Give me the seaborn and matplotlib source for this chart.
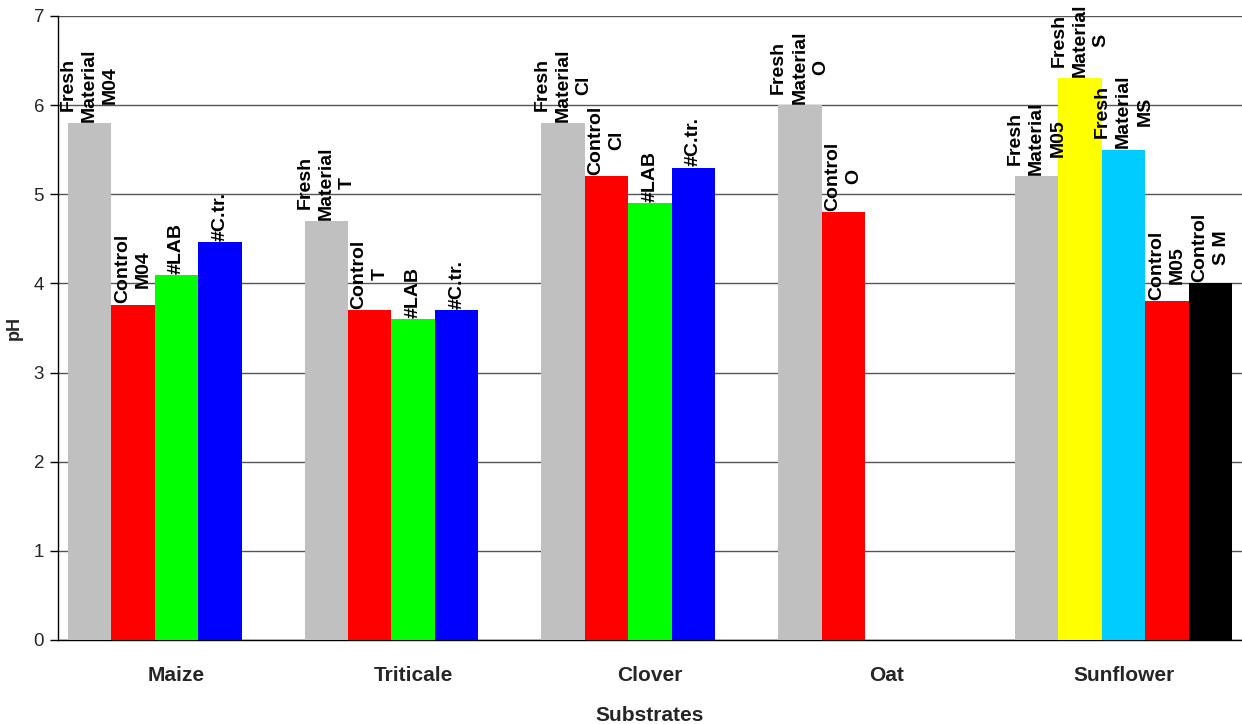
import matplotlib
matplotlib.use("Agg")
import matplotlib.pyplot as plt
import seaborn as sns
import pandas as pd
import numpy as np

# Substrates on the x axis
substrates = ["Maize", "Triticale", "Clover", "Oat", "Sunflower"]

# pH values per substrate, one entry per bar slot (None = no bar)
maize_ph = [5.8, 3.76, 4.09, 4.46, None]
triticale_ph = [4.7, 3.7, 3.6, 3.7, None]
clover_ph = [5.8, 5.2, 4.9, 5.3, None]
oat_ph = [6.0, 4.8, None, None, None]
sunflower_ph = [5.2, 6.3, 5.5, 3.8, 4.0]

# bar annotations
maize_labels = ["Fresh\nMaterial\nM04", "Control\nM04", "#LAB", "#C.tr.", None]
triticale_labels = ["Fresh\nMaterial\nT", "Control\nT", "#LAB", "#C.tr.", None]
clover_labels = ["Fresh\nMaterial\nCl", "Control\nCl", "#LAB", "#C.tr.", None]
oat_labels = ["Fresh\nMaterial\nO", "Control\nO", None, None, None]
sunflower_labels = ["Fresh\nMaterial\nM05", "Fresh\nMaterial\nS", "Fresh\nMaterial\nMS",
                    "Control\nM05", "Control\nS M"]

# bar colours
std_colors = ["#C0C0C0", "#FF0000", "#00FF00", "#0000FF", "#000000"]
sunflower_colors = ["#C0C0C0", "#FFFF00", "#00CCFF", "#FF0000", "#000000"]

values = [maize_ph, triticale_ph, clover_ph, oat_ph, sunflower_ph]
labels = [maize_labels, triticale_labels, clover_labels, oat_labels, sunflower_labels]
colors = [std_colors, std_colors, std_colors, std_colors, sunflower_colors]

rows = []
for s, vals in zip(substrates, values):
    for slot, v in enumerate(vals):
        if v is not None:
            rows.append({"Substrate": s, "slot": slot, "pH": v})
df = pd.DataFrame(rows)

sns.set_style("white")
plt.rcParams["font.family"] = ["Liberation Sans", "DejaVu Sans"]

fig = plt.figure(figsize=(12.42, 7.24), dpi=100)
ax = fig.add_axes([58 / 1242, 84 / 724, 1 - 58 / 1242, 624 / 724])

sns.barplot(data=df, x="Substrate", y="pH", hue="slot", order=substrates,
            hue_order=[0, 1, 2, 3, 4], width=0.918, dodge=True,
            palette=["#888888"] * 5, saturation=1, legend=False, ax=ax,
            errorbar=None, zorder=3)

# recolour each bar and annotate it
for slot, cont in enumerate(ax.containers):
    for bar in cont:
        h = bar.get_height()
        if not np.isfinite(h):
            continue
        cx = bar.get_x() + bar.get_width() / 2
        gi = int(round(cx))
        bar.set_facecolor(colors[gi][slot])
        bar.set_edgecolor("none")
        bar.set_linewidth(0)
        txt = labels[gi][slot]
        if txt:
            ax.annotate(txt, (cx, h), xytext=(0, 1), textcoords="offset points",
                        rotation=90, ha="center", va="bottom",
                        multialignment="center", fontsize=14,
                        fontweight="bold", color="black", zorder=5,
                        linespacing=1.32)

ax.set_ylim(0, 7)
ax.set_xlim(-0.5, 4.5)
ax.set_yticks(range(0, 8))
ax.yaxis.grid(True, color="#555555", linewidth=1.0, zorder=0)
ax.xaxis.grid(False)
ax.set_axisbelow(True)

ax.set_xticks(range(len(substrates)))
ax.set_xticklabels(substrates, fontsize=15, fontweight="bold")
ax.set_xticks(np.arange(-0.5, 5.0, 1.0), minor=True)
ax.tick_params(axis="x", which="major", length=0, pad=19)
ax.tick_params(axis="x", which="minor", length=6, width=1, direction="out", color="black")
ax.tick_params(axis="y", which="major", length=6, width=1, direction="out",
               color="black", labelsize=13.5, pad=4, left=True)

ax.set_xlabel("Substrates", fontsize=15, fontweight="bold", labelpad=15)
ax.set_ylabel("pH", fontsize=13, fontweight="bold", labelpad=8)

for side in ["top", "right"]:
    ax.spines[side].set_visible(False)
for side in ["left", "bottom"]:
    ax.spines[side].set_color("black")
    ax.spines[side].set_linewidth(1)

fig.savefig("out.png", dpi=100)
